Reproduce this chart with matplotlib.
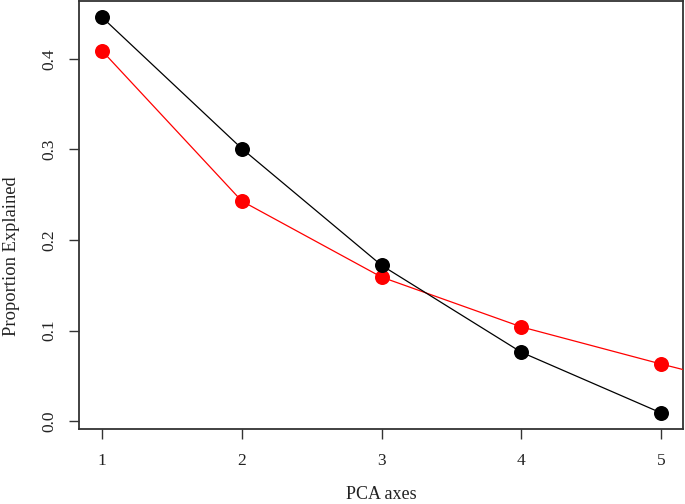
import matplotlib
matplotlib.use("Agg")
import matplotlib.pyplot as plt

# PCA axes and proportion of variance explained
axes_idx = [1, 2, 3, 4, 5]
black_vals = [0.446, 0.301, 0.172, 0.076, 0.009]
# red series runs one step past the visible range (its line leaves the plot on the right)
red_idx = [1, 2, 3, 4, 5, 6]
red_vals = [0.409, 0.243, 0.159, 0.104, 0.063, 0.024]

plt.rcParams['font.family'] = ['Liberation Serif', 'DejaVu Serif']

fig = plt.figure(figsize=(6.85, 5.04), dpi=100)
ax = fig.add_axes([79 / 685, 1 - 429 / 504, 604 / 685, 428 / 504])

ax.plot(red_idx, red_vals, color='red', lw=0.9, marker='o', ms=10.8,
        markeredgewidth=0, zorder=3)
ax.plot(axes_idx, black_vals, color='black', lw=0.9, marker='o', ms=10.8,
        markeredgewidth=0, zorder=4)

ax.set_xlim(0.835, 5.157)
ax.set_ylim(-0.0088, 0.464)
ax.set_xticks(axes_idx)
ax.set_yticks([0.0, 0.1, 0.2, 0.3, 0.4])
ax.set_yticklabels(['0.0', '0.1', '0.2', '0.3', '0.4'], rotation=90, va='center')

for s in ax.spines.values():
    s.set_linewidth(1.3)
    s.set_color('#333333')
ax.tick_params(axis='both', length=7.5, width=1.0, color='#333333',
               labelsize=12.5, labelcolor='#222222')
ax.tick_params(axis='x', pad=10)
ax.tick_params(axis='y', pad=8)

ax.set_xlabel('PCA axes', fontsize=13, color='#222222')
ax.set_ylabel('Proportion Explained', fontsize=13.3, color='#222222')
ax.xaxis.set_label_coords(0.5, -0.133)
ax.yaxis.set_label_coords(-0.098, 0.404)

fig.savefig('out.png', dpi=100)
